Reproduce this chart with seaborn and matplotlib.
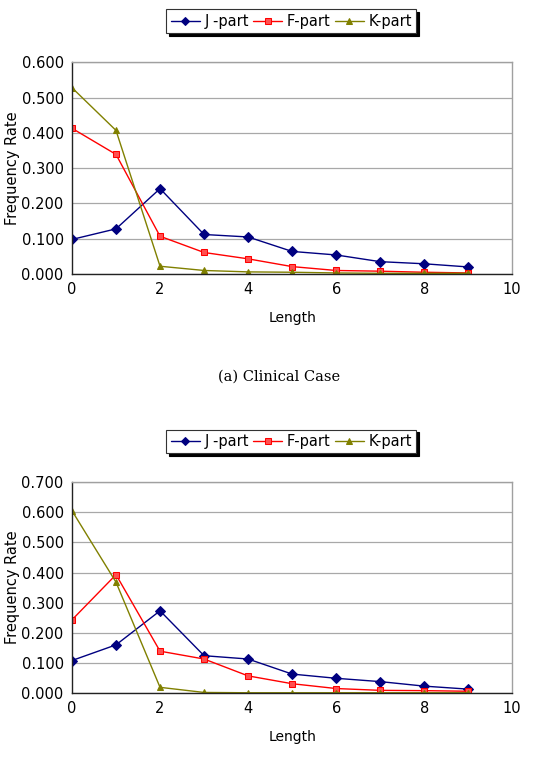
import numpy as np
import pandas as pd
import matplotlib
matplotlib.use("Agg")
import matplotlib.pyplot as plt
import seaborn as sns

# --- data ---
lengths = [0, 1, 2, 3, 4, 5, 6, 7, 8, 9]
series_names = ["J -part", "F-part", "K-part"]

# (a) Clinical Case
j_clinical = [0.098, 0.128, 0.242, 0.112, 0.105, 0.064, 0.054, 0.035, 0.029, 0.020]
f_clinical = [0.413, 0.339, 0.107, 0.061, 0.043, 0.021, 0.010, 0.008, 0.005, 0.003]
k_clinical = [0.528, 0.407, 0.022, 0.010, 0.006, 0.005, 0.003, 0.002, 0.002, 0.002]

# (b) second case
j_second = [0.108, 0.160, 0.273, 0.124, 0.113, 0.063, 0.049, 0.038, 0.023, 0.013]
f_second = [0.243, 0.393, 0.139, 0.113, 0.057, 0.031, 0.015, 0.009, 0.008, 0.006]
k_second = [0.605, 0.368, 0.019, 0.002, 0.001, 0.001, 0.001, 0.001, 0.001, 0.001]

colors = {"J -part": "#000080", "F-part": "#FF0000", "K-part": "#808000"}
markers = {"J -part": "D", "F-part": "s", "K-part": "^"}
faces = {"J -part": "#000080", "F-part": "#FF5050", "K-part": "#808000"}

sns.set_style("white")
plt.rcParams["font.family"] = ["DejaVu Sans"]
plt.rcParams["text.color"] = "black"
plt.rcParams["axes.labelcolor"] = "black"
plt.rcParams["xtick.color"] = "black"
plt.rcParams["ytick.color"] = "black"

fig = plt.figure(figsize=(5.58, 7.84), dpi=100)
ax_top = fig.add_axes([0.129, 0.6505, 0.789, 0.270])
ax_bot = fig.add_axes([0.129, 0.116, 0.789, 0.269])


def draw_panel(ax, j_vals, f_vals, k_vals, ymax, leg_y):
    df = pd.DataFrame({"Length": lengths * 3,
                       "Rate": j_vals + f_vals + k_vals,
                       "Series": np.repeat(series_names, len(lengths))})
    for name in series_names:
        sub = df[df["Series"] == name]
        sns.lineplot(data=sub, x="Length", y="Rate", ax=ax, color=colors[name],
                     marker=markers[name], markersize=5, markerfacecolor=faces[name],
                     markeredgecolor=colors[name], linewidth=1, label=name)
    ax.set_xlim(0, 10)
    ax.set_ylim(0, ymax)
    ax.set_xticks(range(0, 11, 2))
    ax.set_yticks(np.arange(0, ymax + 0.001, 0.1))
    ax.yaxis.set_major_formatter(matplotlib.ticker.FormatStrFormatter("%.3f"))
    ax.yaxis.grid(True, color="#a8a8a8", linewidth=0.9)
    ax.set_axisbelow(True)
    ax.tick_params(labelsize=10.5, length=0, pad=6)
    for side in ["top", "right"]:
        ax.spines[side].set_color("#a0a0a0")
        ax.spines[side].set_linewidth(1)
    for side in ["left", "bottom"]:
        ax.spines[side].set_color("#222222")
        ax.spines[side].set_linewidth(1)
    ax.set_xlabel("Length", fontsize=10, labelpad=10)
    ax.set_ylabel("Frequency Rate", fontsize=10.5, labelpad=1)
    ax.legend(loc="center", bbox_to_anchor=(0.522, leg_y), bbox_transform=fig.transFigure,
              ncol=3, frameon=True, fancybox=False, shadow={"color": "black", "alpha": 1},
              edgecolor="#333333", fontsize=10.5, handlelength=2.0, handletextpad=0.3,
              columnspacing=0.3, borderpad=0.3, framealpha=1, markerscale=0.75)
    ax.get_legend().get_frame().set_linewidth(0.8)


draw_panel(ax_top, j_clinical, f_clinical, k_clinical, 0.6, 0.973)
draw_panel(ax_bot, j_second, f_second, k_second, 0.7, 0.437)

fig.text(0.5, 0.519, "(a) Clinical Case", ha="center", va="center",
         fontsize=10.5, family="DejaVu Serif")

fig.savefig("out.png", dpi=100)
